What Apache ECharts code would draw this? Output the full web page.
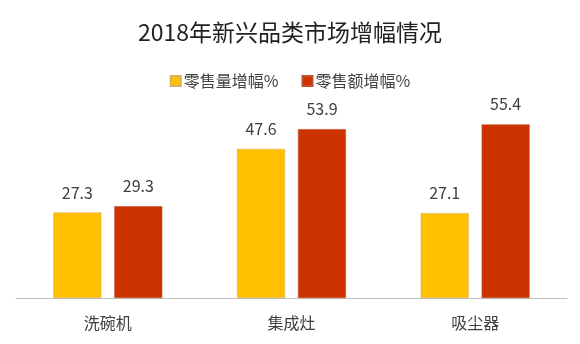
<!DOCTYPE html>
<html><head><meta charset="utf-8">
<script src="https://cdn.jsdelivr.net/npm/echarts@6/dist/echarts.min.js"></script>
<style>html,body{margin:0;padding:0;background:#fff}#c{width:580px;height:344px}</style>
</head><body><div id="c"></div>
<script>
const titleText = '2018年新兴品类市场增幅情况';
const categories = ['洗碗机', '集成灶', '吸尘器'];
const seriesNames = ['零售量增幅%', '零售额增幅%'];
const volumeGrowth = [27.3, 47.6, 27.1];
const valueGrowth = [29.3, 53.9, 55.4];

const font = '"Noto Sans CJK SC", "Microsoft YaHei", sans-serif';
const chart = echarts.init(document.getElementById('c'));
chart.setOption({
  backgroundColor: '#fff',
  animation: false,
  textStyle: { fontFamily: font },
  title: {
    text: titleText, left: 'center', top: 16,
    textStyle: { fontFamily: font, fontSize: 23, fontWeight: 'normal', color: '#222' }
  },
  legend: {
    top: 68, left: 'center', itemWidth: 10, itemHeight: 10, itemGap: 23, icon: 'rect',
    textStyle: { fontFamily: font, fontSize: 16, color: '#404040', padding: [0, 0, 0, -2] },
    data: seriesNames
  },
  grid: { left: 16, right: 13, top: 110, bottom: 46 },
  xAxis: {
    type: 'category', data: categories,
    axisLine: { lineStyle: { color: '#bfbfbf', width: 1 } },
    axisTick: { show: false },
    axisLabel: { fontFamily: font, fontSize: 16, color: '#404040', margin: 17 }
  },
  yAxis: { type: 'value', min: 0, max: 60, show: false, splitLine: { show: false } },
  series: [
    { name: seriesNames[0], type: 'bar', data: volumeGrowth, barWidth: 48, barGap: '27%',
      itemStyle: { color: '#FFC000', borderColor: '#d8b060', borderWidth: 0.6 },
      label: { show: true, position: 'top', distance: 12, fontFamily: font, fontSize: 16, color: '#404040' } },
    { name: seriesNames[1], type: 'bar', data: valueGrowth, barWidth: 48,
      itemStyle: { color: '#CC3300', borderColor: '#c05030', borderWidth: 0.6 },
      label: { show: true, position: 'top', distance: 12, fontFamily: font, fontSize: 16, color: '#404040' } }
  ]
});
</script></body></html>
